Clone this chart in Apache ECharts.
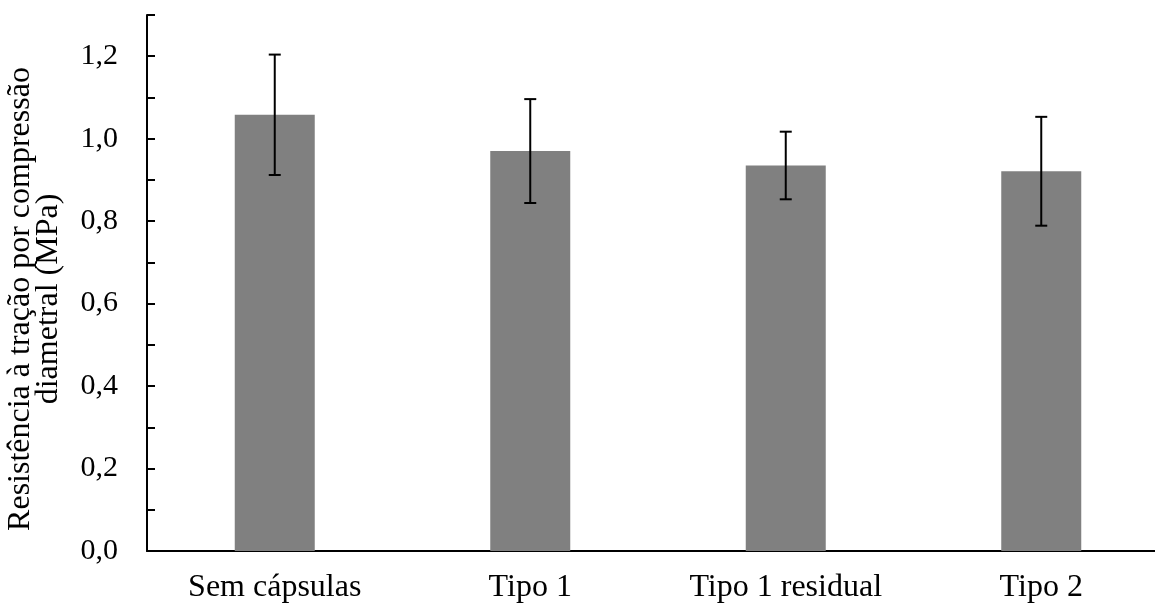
<!DOCTYPE html>
<html>
<head>
<meta charset="utf-8">
<script src="https://cdn.jsdelivr.net/npm/echarts@6/dist/echarts.min.js"></script>
<style>
html,body{margin:0;padding:0;background:#fff;}
#chart{width:1155px;height:604px;}
</style>
</head>
<body>
<div id="chart"></div>
<script>
const categories = ['Sem cápsulas', 'Tipo 1', 'Tipo 1 residual', 'Tipo 2'];
const values = [1.058, 0.970, 0.935, 0.921];
const errors = [0.146, 0.126, 0.082, 0.132];
const yTitleLines = ['Resistência à tração por compressão', 'diametral (MPa)'];

const FONT = '"Liberation Serif", "Times New Roman", serif';

const chart = echarts.init(document.getElementById('chart'), null, {renderer: 'canvas'});

const errData = categories.map((c, i) => [i, values[i] - errors[i], values[i] + errors[i]]);

chart.setOption({
  animation: false,
  backgroundColor: '#ffffff',
  grid: {left: 147, width: 1022, top: 15, height: 536, containLabel: false, outerBoundsMode: 'none'},
  xAxis: {
    type: 'category',
    data: categories,
    axisLine: {show: true, lineStyle: {color: '#000', width: 2}},
    axisTick: {show: false},
    axisLabel: {color: '#000', fontFamily: FONT, fontSize: 32, margin: 21, interval: 0},
    splitLine: {show: false}
  },
  yAxis: {
    type: 'value',
    min: 0,
    max: 1.3,
    interval: 0.1,
    axisLine: {show: true, lineStyle: {color: '#000', width: 2}},
    axisTick: {show: true, inside: true, length: 8, lineStyle: {color: '#000', width: 2}},
    axisLabel: {
      color: '#000', fontFamily: FONT, fontSize: 30, margin: 29,
      formatter: function (v) {
        const k = Math.round(v * 10);
        if (k % 2 !== 0) return '';
        return (k / 10).toFixed(1).replace('.', ',');
      }
    },
    splitLine: {show: false}
  },
  graphic: [
    {type: 'text', x: 21, y: 299, rotation: Math.PI / 2,
      style: {text: yTitleLines[0], font: '32px ' + FONT, fill: '#000', textAlign: 'center', textVerticalAlign: 'middle'}},
    {type: 'text', x: 49, y: 299, rotation: Math.PI / 2,
      style: {text: yTitleLines[1], font: '32px ' + FONT, fill: '#000', textAlign: 'center', textVerticalAlign: 'middle'}}
  ],
  series: [
    {
      type: 'bar',
      data: values,
      barWidth: 80,
      itemStyle: {color: '#808080'},
      z: 2
    },
    {
      type: 'custom',
      data: errData,
      z: 5,
      renderItem: function (params, api) {
        const idx = api.value(0);
        const lo = api.coord([idx, api.value(1)]);
        const hi = api.coord([idx, api.value(2)]);
        const hw = 6;
        const st = {stroke: '#000', lineWidth: 2};
        return {
          type: 'group',
          children: [
            {type: 'line', shape: {x1: hi[0], y1: hi[1], x2: lo[0], y2: lo[1]}, style: st},
            {type: 'line', shape: {x1: hi[0] - hw, y1: hi[1], x2: hi[0] + hw, y2: hi[1]}, style: st},
            {type: 'line', shape: {x1: lo[0] - hw, y1: lo[1], x2: lo[0] + hw, y2: lo[1]}, style: st}
          ]
        };
      }
    }
  ]
});
</script>
</body>
</html>
